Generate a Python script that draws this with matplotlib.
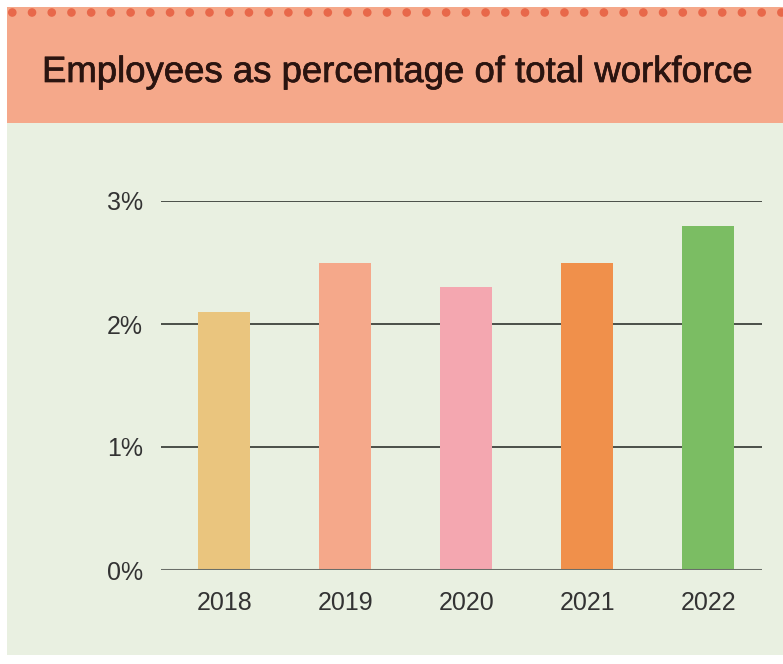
import matplotlib
matplotlib.use("Agg")
import matplotlib.pyplot as plt
import matplotlib.patheffects as pe
from matplotlib.patches import Rectangle, Circle

# Share of employees in the total workforce, by year
years = ["2018", "2019", "2020", "2021", "2022"]
share_pct = [2.1, 2.5, 2.3, 2.5, 2.8]
bar_colors = ["#EAC57E", "#F5A88A", "#F4A7B0", "#F0904B", "#7BBD63"]
y_ticks = [0, 1, 2, 3]
y_tick_labels = ["0%", "1%", "2%", "3%"]

W, H = 783, 664
plt.rcParams["font.family"] = ["Liberation Sans", "DejaVu Sans"]

fig = plt.figure(figsize=(W / 100, H / 100), dpi=100, facecolor="white")

# Background panels drawn in pixel space
bg = fig.add_axes([0, 0, 1, 1])
bg.set_xlim(0, W)
bg.set_ylim(H, 0)
bg.axis("off")
bg.add_patch(Rectangle((7, 123), W - 7, 532, color="#E9F0E1", lw=0))
bg.add_patch(Rectangle((7, 7), W - 7, 116, color="#F5A88A", lw=0))
for k in range(40):
    bg.add_patch(Circle((12.3 + k * 19.72, 12.5), 4.3, color="#E8684A", lw=0))
bg.text(42, 82, "Employees as percentage of total workforce",
        fontsize=26.3, color="#2A1410", va="baseline", ha="left",
        path_effects=[pe.withStroke(linewidth=0.5, foreground="#2A1410")])

ax = fig.add_axes([161 / W, 1 - 570 / H, (762 - 161) / W, (570 - 201) / H])
ax.patch.set_alpha(0)
x = range(len(years))
ax.bar(x, share_pct, width=0.43, color=bar_colors, zorder=1)
for v in y_ticks[1:]:
    ax.axhline(v, color="#4A4F48", lw=1.4, zorder=0)
ax.axhline(0, color="#6A6E68", lw=2.2, zorder=2)

ax.set_xlim(-0.524, 4.443)
ax.set_ylim(0, 3)
ax.set_yticks(y_ticks)
ax.set_yticklabels(y_tick_labels)
ax.set_xticks(list(x))
ax.set_xticklabels(years)
ax.tick_params(axis="both", length=0, labelsize=18, labelcolor="#333333")
ax.tick_params(axis="y", pad=13)
ax.tick_params(axis="x", pad=15)
for s in ax.spines.values():
    s.set_visible(False)

fig.savefig("out.png", dpi=100, facecolor="white")
